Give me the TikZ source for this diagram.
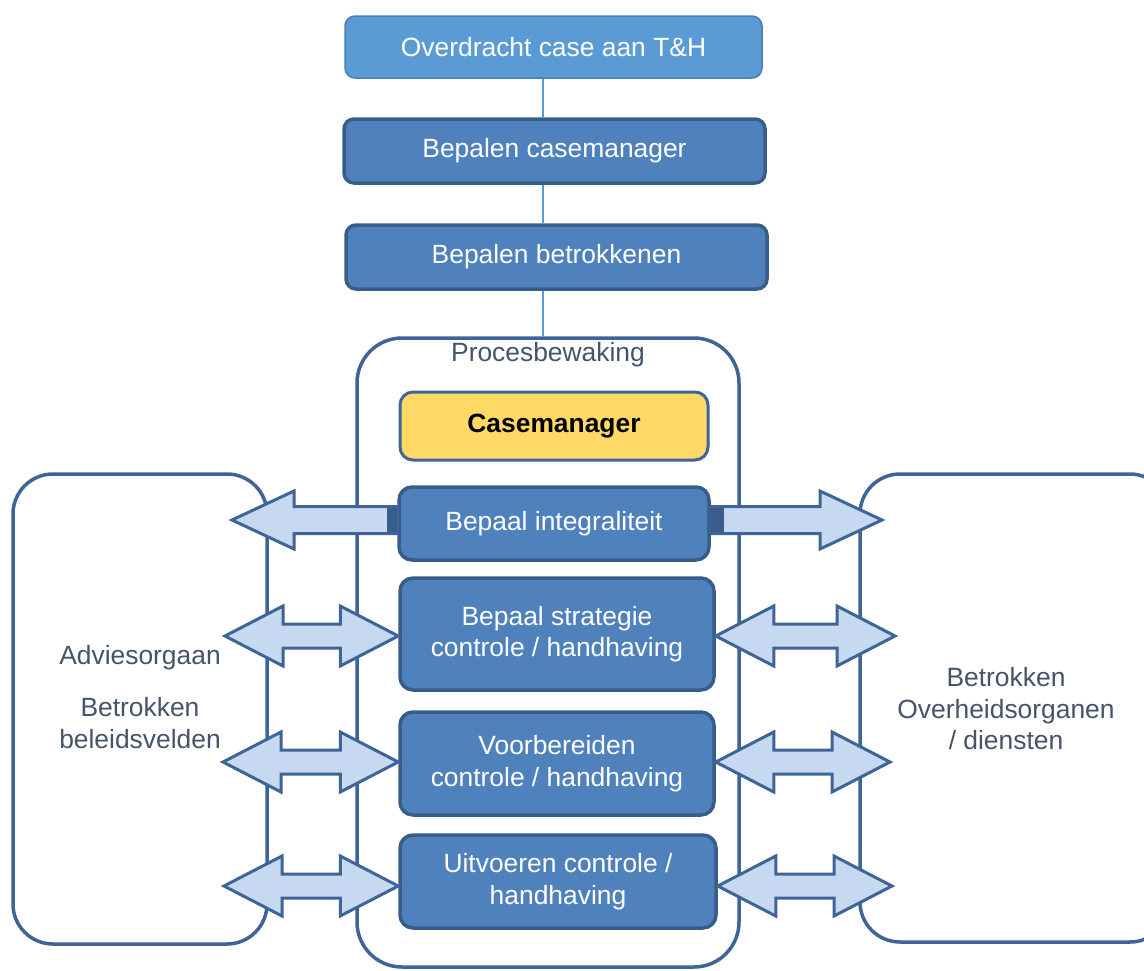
\documentclass[tikz,border=0pt]{standalone}
\usepackage{fontspec}
\setmainfont{Liberation Sans}
\usepackage{tikz}
\usetikzlibrary{calc,positioning}
\definecolor{topblue}{HTML}{5B9BD5}
\definecolor{topline}{HTML}{4A7EBB}
\definecolor{boxblue}{HTML}{4F81BD}
\definecolor{boxline}{HTML}{385D8A}
\definecolor{frameline}{HTML}{3E6498}
\definecolor{arrowfill}{HTML}{C6D9F1}
\definecolor{cmyellow}{HTML}{FFD966}
\definecolor{labeltext}{HTML}{44546A}

\begin{document}
\begin{tikzpicture}
[x=1pt,y=-1pt,
 txt/.style={font=\fontsize{26.4}{31.5}\selectfont,align=center},
 topbox/.style={txt,rectangle,rounded corners=10pt,draw=topline,line width=1.5pt,fill=topblue,text=white,minimum width=417pt,minimum height=62pt},
 stepbox/.style={txt,rectangle,rounded corners=13pt,draw=boxline,line width=3.5pt,fill=boxblue,text=white,inner sep=0pt},
 cmbox/.style={stepbox,fill=cmyellow,draw=frameline,line width=3pt,text=black,font=\fontsize{26.4}{31.5}\selectfont\bfseries},
 frame/.style={rectangle,rounded corners=45pt,draw=frameline,line width=3.5pt,fill=white},
 sidetext/.style={txt,text=labeltext},
 link/.style={draw=topblue,line width=1.3pt},
 arrowshape/.style={draw=frameline,fill=arrowfill,line width=3pt,line join=miter},
 twoway/.style={arrowshape,
   to path={-- ++(58,-30) -- ++(0,18) -- ($(\tikztotarget)+(-58,-12)$) -- ++(0,-18) -- (\tikztotarget) -- ++(-58,30) -- ++(0,-18) -- ($(\tikztostart)+(58,12)$) -- ++(0,18) -- cycle}}]
\useasboundingbox (0,0) rectangle (1144,970);

\node[frame,minimum width=254pt,minimum height=470pt,rounded corners=40pt] (adv) at (140,709) {};
\node[frame,minimum width=310pt,minimum height=468pt,rounded corners=40pt] (ovh) at (1015,708) {};
\node[frame,minimum width=382pt,minimum height=629pt] (pb) at (548,652.5) {};
\node[sidetext,inner sep=2pt,below=4pt of pb.north] (pbl) {Procesbewaking};
\node[sidetext] (advt) at (140,697) {Adviesorgaan\\[21pt]Betrokken\\beleidsvelden};
\node[sidetext] (ovht) at (1006,709) {Betrokken\\Overheidsorganen\\/ diensten};

\node[topbox] (ovd) at (553.5,47) {Overdracht case aan T\&H};
\node[topbox,draw=boxline,line width=3.5pt,fill=boxblue,minimum width=421pt,minimum height=64pt] (bcm) at (554.5,151) {Bepalen casemanager};
\node[topbox,draw=boxline,line width=3.5pt,fill=boxblue,minimum width=421pt,minimum height=64pt] (bbt) at (556.5,257) {Bepalen betrokkenen};
\coordinate (axis) at (543,0);
\draw[link] (ovd.south -| axis) -- (bcm.north -| axis);
\draw[link] (bcm.south -| axis) -- (bbt.north -| axis);
\draw[link] (bbt.south -| axis) -- (pb.north -| axis);

\node[cmbox,minimum width=308pt,minimum height=68pt] (cm) at (554,426) {Casemanager};
\node[stepbox,minimum width=310pt,minimum height=73pt] (bi) at (554,523.5) {Bepaal integraliteit};
\node[stepbox,minimum width=314pt,minimum height=112pt] (bs) at (557,634) {Bepaal strategie\\controle / handhaving};
\node[stepbox,minimum width=314pt,minimum height=103pt] (vb) at (557,763.5) {Voorbereiden\\controle / handhaving};
\node[stepbox,minimum width=316pt,minimum height=93pt] (uv) at (558,881.5) {Uitvoeren controle /\\handhaving};

\coordinate (l1) at (232,520);
\coordinate (r1) at (882,520);
\draw[arrowshape] (l1) -- ++(62,-29) -- ++(0,15.5) -- ($(l1 -| bi.west)+(0,-13.5)$) -- ++(0,27) -- ($(l1)+(62,13.5)$) -- ++(0,15.5) -- cycle;
\draw[arrowshape] (r1) -- ++(-62,-29) -- ++(0,15.5) -- ($(r1 -| bi.east)+(0,-13.5)$) -- ++(0,27) -- ($(r1)+(-62,13.5)$) -- ++(0,15.5) -- cycle;
\fill[boxline] ($(l1 -| bi.west)+(-10,-12)$) rectangle ++(10,24);
\fill[boxline] ($(r1 -| bi.east)+(0,-12)$) rectangle ++(13,24);

\coordinate (l2) at (225,636);
\coordinate (l3) at (223,762);
\coordinate (l4) at (224,886);
\coordinate (r2) at (895,636);
\coordinate (r3) at (890,762);
\coordinate (r4) at (892,886);
\draw[twoway] (l2) to (l2 -| bs.west);
\draw[twoway] (l3) to (l3 -| vb.west);
\draw[twoway] (l4) to (l4 -| uv.west);
\draw[twoway] (r2 -| bs.east) to (r2);
\draw[twoway] (r3 -| vb.east) to (r3);
\draw[twoway] (r4 -| uv.east) to (r4);
\end{tikzpicture}
\end{document}
